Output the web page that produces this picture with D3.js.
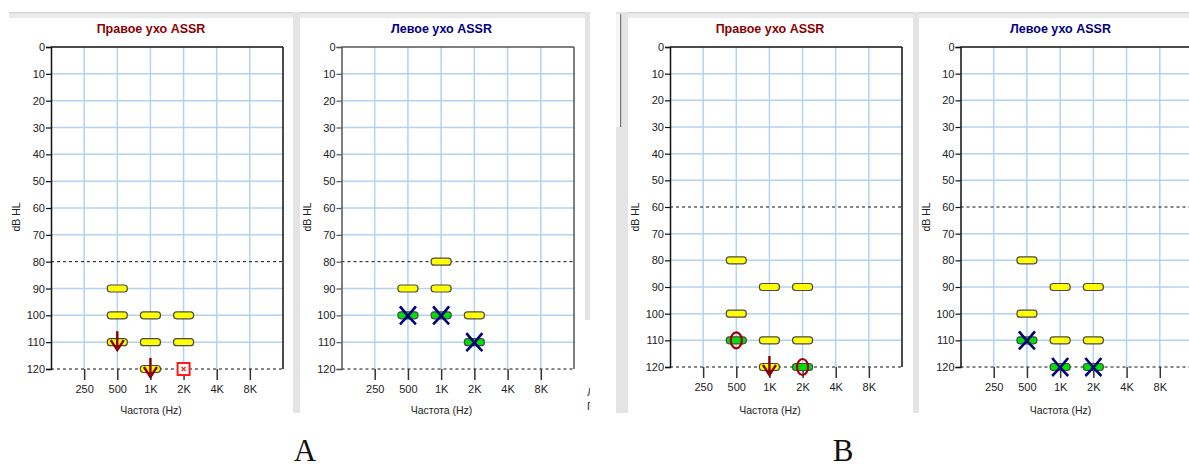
<!DOCTYPE html>
<html>
<head>
<meta charset="utf-8">
<script src="https://cdn.jsdelivr.net/npm/d3@7/dist/d3.min.js"></script>
<style>
  html, body { margin: 0; padding: 0; background: #fff; }
  svg { display: block; }
  .tick text { font-family: "Liberation Sans", Arial, sans-serif; font-size: 11px; fill: #222; }
</style>
</head>
<body>
<svg id="chart" width="1189" height="468"></svg>
<script>
// Audiogram axes
const freqTicks = [250, 500, 1000, 2000, 4000, 8000];
const freqLabels = ["250", "500", "1K", "2K", "4K", "8K"];
const dbTicks = [0, 10, 20, 30, 40, 50, 60, 70, 80, 90, 100, 110, 120];

// Titles
const rightTitle = "Правое ухо ASSR";
const leftTitle = "Левое ухо ASSR";
const xTitle = "Частота (Hz)";
const yTitle = "dB HL";
const groupLabels = ["A", "B"];

// A — right ear  [frequency Hz, dB HL]
const aRightYellow = [[500, 90], [500, 100], [500, 110], [1000, 100], [1000, 110], [1000, 120], [2000, 100], [2000, 110]];
const aRightArrow = [[500, 110], [1000, 120]];
const aRightSquare = [[2000, 120]];
const aRightDashed = [80, 120];

// A — left ear
const aLeftYellow = [[500, 90], [1000, 80], [1000, 90], [2000, 100]];
const aLeftGreen = [[500, 100], [1000, 100], [2000, 110]];
const aLeftCross = [[500, 100], [1000, 100], [2000, 110]];
const aLeftDashed = [80, 120];

// B — right ear
const bRightYellow = [[500, 80], [500, 100], [1000, 90], [1000, 110], [1000, 120], [2000, 90], [2000, 110]];
const bRightGreen = [[500, 110], [2000, 120]];
const bRightCircle = [[500, 110], [2000, 120]];
const bRightArrow = [[1000, 120]];
const bRightDashed = [60, 120];

// B — left ear
const bLeftYellow = [[500, 80], [500, 100], [1000, 90], [1000, 110], [2000, 90], [2000, 110]];
const bLeftGreen = [[500, 110], [1000, 120], [2000, 120]];
const bLeftCross = [[500, 110], [1000, 120], [2000, 120]];
const bLeftDashed = [60, 120];

const svg = d3.select("#chart");
const GRID = "#b4d2f2";
const FRAME = "#e4e4e4";
const RED_DARK = "#8a0000";
const NAVY = "#00007f";

// ---- window frames behind the charts ----
const frames = svg.append("g");
// group A
frames.append("rect").attr("x", 9).attr("y", 12).attr("width", 581).attr("height", 6).attr("fill", "#ececec");
frames.append("rect").attr("x", 9).attr("y", 12).attr("width", 581).attr("height", 1.5).attr("fill", "#d6d6d6");
frames.append("rect").attr("x", 293).attr("y", 12).attr("width", 7).attr("height", 401).attr("fill", FRAME);
frames.append("rect").attr("x", 585).attr("y", 12).attr("width", 5).attr("height", 308).attr("fill", FRAME);
// group B
frames.append("rect").attr("x", 616).attr("y", 12).attr("width", 573).attr("height", 6).attr("fill", "#ececec");
frames.append("rect").attr("x", 616).attr("y", 12).attr("width", 573).attr("height", 1.5).attr("fill", "#d6d6d6");
frames.append("rect").attr("x", 616).attr("y", 12).attr("width", 12).attr("height", 401).attr("fill", FRAME);
frames.append("rect").attr("x", 616).attr("y", 14).attr("width", 5).attr("height", 113).attr("fill", "#f6f6f6");
frames.append("rect").attr("x", 620).attr("y", 14).attr("width", 1.2).attr("height", 113).attr("fill", "#777");
frames.append("rect").attr("x", 913).attr("y", 12).attr("width", 6).attr("height", 401).attr("fill", FRAME);
// clipped letters of a neighbouring window
frames.append("text").attr("x", 587).attr("y", 396).attr("font-family", "Liberation Sans, Arial, sans-serif")
  .attr("font-size", 11).attr("fill", "#333").text("Л");
frames.append("text").attr("x", 587).attr("y", 410).attr("font-family", "Liberation Sans, Arial, sans-serif")
  .attr("font-size", 11).attr("fill", "#333").text("Г");
frames.append("rect").attr("x", 590).attr("y", 380).attr("width", 20).attr("height", 40).attr("fill", "#fff");

// ---- panel definitions (layout only) ----
const panels = [
  { left: 51, right: 283, top: 47, bottom: 369, cx: 151, title: rightTitle, titleColor: RED_DARK, axisColor: "#111",
    dashed: aRightDashed, yellow: aRightYellow, green: [], cross: [], circle: [], arrow: aRightArrow, square: aRightSquare },
  { left: 341.5, right: 574, top: 47, bottom: 369, cx: 441.5, title: leftTitle, titleColor: NAVY, axisColor: "#555",
    dashed: aLeftDashed, yellow: aLeftYellow, green: aLeftGreen, cross: aLeftCross, circle: [], arrow: [], square: [] },
  { left: 670, right: 902, top: 47, bottom: 367, cx: 770, title: rightTitle, titleColor: RED_DARK, axisColor: "#111",
    dashed: bRightDashed, yellow: bRightYellow, green: bRightGreen, cross: [], circle: bRightCircle, arrow: bRightArrow, square: [] },
  { left: 960.5, right: 1193, top: 47, bottom: 367, cx: 1060.5, title: leftTitle, titleColor: NAVY, axisColor: "#111",
    dashed: bLeftDashed, yellow: bLeftYellow, green: bLeftGreen, cross: bLeftCross, circle: [], arrow: [], square: [] }
];

panels.forEach(p => {
  const x = d3.scaleLog().base(2).domain([125, 16000]).range([p.left, p.right]);
  const y = d3.scaleLinear().domain([0, 120]).range([p.top, p.bottom]);
  const g = svg.append("g");

  // grid
  g.append("g").selectAll("line").data(freqTicks).join("line")
    .attr("x1", d => x(d)).attr("x2", d => x(d)).attr("y1", y(0)).attr("y2", y(120))
    .attr("stroke", GRID).attr("stroke-width", 1.5);
  g.append("g").selectAll("line").data(dbTicks.filter(d => d > 0 && d < 120 && !p.dashed.includes(d))).join("line")
    .attr("x1", p.left).attr("x2", p.right).attr("y1", d => y(d)).attr("y2", d => y(d))
    .attr("stroke", GRID).attr("stroke-width", 1.5);

  // dashed reference lines
  g.append("g").selectAll("line").data(p.dashed).join("line")
    .attr("x1", p.left).attr("x2", p.right).attr("y1", d => y(d)).attr("y2", d => y(d))
    .attr("stroke", "#111").attr("stroke-width", 1).attr("stroke-dasharray", "3,3");

  // frame: top and right edges
  g.append("line").attr("x1", p.left).attr("x2", p.right).attr("y1", y(0)).attr("y2", y(0))
    .attr("stroke", p.axisColor).attr("stroke-width", 1.5);
  g.append("line").attr("x1", p.right).attr("x2", p.right).attr("y1", y(0)).attr("y2", y(120))
    .attr("stroke", p.axisColor).attr("stroke-width", 1.5);

  // y axis
  const ya = g.append("g").attr("transform", `translate(${p.left},0)`)
    .call(d3.axisLeft(y).tickValues(dbTicks).tickSize(5).tickPadding(1).tickFormat(d3.format("d")));
  ya.select(".domain").attr("stroke", p.axisColor).attr("stroke-width", 1.5);
  ya.selectAll(".tick line").attr("stroke", p.axisColor).attr("stroke-width", 1.2);

  // x axis (ticks only, hanging below the 120 dB line)
  const xa = g.append("g").attr("transform", `translate(0,${y(120)})`)
    .call(d3.axisBottom(x).tickValues(freqTicks).tickSize(11).tickPadding(5)
      .tickFormat((d, i) => freqLabels[i]));
  xa.select(".domain").remove();
  xa.selectAll(".tick line").attr("stroke", "#333").attr("stroke-width", 1.5);

  // titles
  g.append("text").attr("x", p.cx).attr("y", 33).attr("text-anchor", "middle")
    .attr("font-family", "Liberation Sans, Arial, sans-serif").attr("font-weight", "bold")
    .attr("font-size", 12.5).attr("fill", p.titleColor).text(p.title);
  g.append("text").attr("x", p.cx).attr("y", 414).attr("text-anchor", "middle")
    .attr("font-family", "Liberation Sans, Arial, sans-serif").attr("font-size", 10.5)
    .attr("fill", "#222").text(xTitle);
  g.append("text").attr("transform", `translate(${p.left - 31},217) rotate(-90)`).attr("text-anchor", "middle")
    .attr("font-family", "Liberation Sans, Arial, sans-serif").attr("font-size", 10.5)
    .attr("fill", "#222").text(yTitle);

  // yellow bars
  g.append("g").selectAll("rect").data(p.yellow).join("rect")
    .attr("x", d => x(d[0]) - 10).attr("y", d => y(d[1]) - 3.5)
    .attr("width", 20).attr("height", 7).attr("rx", 3).attr("ry", 3)
    .attr("fill", "#ffff00").attr("stroke", "#4a4a4a").attr("stroke-width", 1.2);

  // green bars
  g.append("g").selectAll("rect").data(p.green).join("rect")
    .attr("x", d => x(d[0]) - 10).attr("y", d => y(d[1]) - 3.5)
    .attr("width", 20).attr("height", 7).attr("rx", 3).attr("ry", 3)
    .attr("fill", "#00e000").attr("stroke", "#4a4a4a").attr("stroke-width", 1.2);

  // left-ear crosses
  g.append("g").selectAll("path").data(p.cross).join("path")
    .attr("transform", d => `translate(${x(d[0])},${y(d[1])})`)
    .attr("d", "M-8,-9 Q-1,0 8,9 M8,-9 Q1,0 -8,9")
    .attr("fill", "none").attr("stroke", NAVY).attr("stroke-width", 2.6);

  // right-ear circles
  g.append("g").selectAll("ellipse").data(p.circle).join("ellipse")
    .attr("cx", d => x(d[0])).attr("cy", d => y(d[1]))
    .attr("rx", 5.5).attr("ry", 8)
    .attr("fill", "none").attr("stroke", "#a00000").attr("stroke-width", 2.2);

  // no-response arrows
  g.append("g").selectAll("path").data(p.arrow).join("path")
    .attr("transform", d => `translate(${x(d[0])},${y(d[1])})`)
    .attr("d", "M0,-11 L0,8 M-6.5,-2 L0,8 L6.5,-2")
    .attr("fill", "none").attr("stroke", RED_DARK).attr("stroke-width", 2.4);

  // masked square symbols
  const sq = g.append("g").selectAll("g").data(p.square).join("g")
    .attr("transform", d => `translate(${x(d[0])},${y(d[1])})`);
  sq.append("rect").attr("x", -6).attr("y", -6).attr("width", 12).attr("height", 12)
    .attr("fill", "#fff").attr("stroke", "#ff1a1a").attr("stroke-width", 2);
  sq.append("path").attr("d", "M-2,-2 L2,2 M2,-2 L-2,2")
    .attr("stroke", "#ff1a1a").attr("stroke-width", 1.2);
});

// group labels beneath each pair
const labelX = [305, 843];
svg.append("g").selectAll("text").data(groupLabels).join("text")
  .attr("x", (d, i) => labelX[i]).attr("y", 461).attr("text-anchor", "middle")
  .attr("font-family", "Liberation Serif, Times New Roman, serif").attr("font-size", 31)
  .attr("fill", "#111").text(d => d);
</script>
</body>
</html>
